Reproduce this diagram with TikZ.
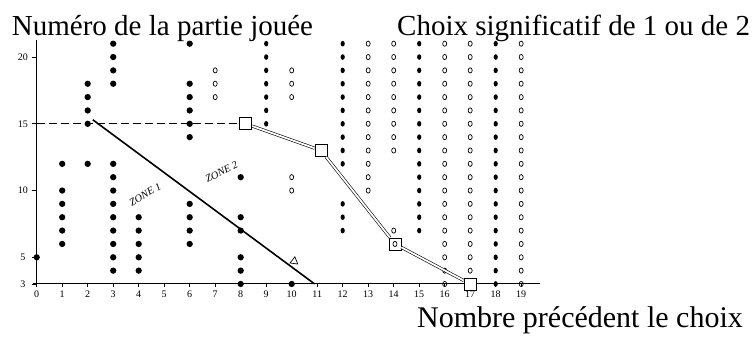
\documentclass[tikz,border=0pt]{standalone}
\usepackage{fontspec}
\setmainfont{Liberation Serif}
\usetikzlibrary{calc,shapes.geometric}

\begin{document}
\begin{tikzpicture}[x=25.5pt,y=13.35pt,
    fulldot/.style={fill=black,circle,inner sep=0pt,minimum size=6.3pt},
    smalldot/.style={fill=black,ellipse,inner sep=0pt,minimum width=4.2pt,minimum height=5.6pt},
    opendot/.style={draw,ellipse,inner sep=0pt,minimum width=4pt,minimum height=5.2pt,line width=0.7pt},
    choicebox/.style={draw,fill=white,minimum size=12pt,inner sep=0pt,line width=0.8pt},
    chain/.style={double,double distance=1.8pt,line width=0.6pt},
    axis/.style={line width=1pt},
    ticklabel/.style={font=\fontsize{10}{10}\selectfont,inner sep=0pt},
    caption/.style={font=\fontsize{29}{30}\selectfont,inner sep=0pt},
    zonelabel/.style={font=\itshape\fontsize{10.5}{10.5}\selectfont,inner sep=0pt}]
  \useasboundingbox (-1.439,-1.045) rectangle (28.169,24.273);

  \node[caption,anchor=base west] (ylab) at (-0.98,21.65) {Numéro de la partie jouée};
  \node[caption,anchor=base west] (key) at (14.13,21.65) {Choix significatif de 1 ou de 2};
  \node[caption,anchor=base east,font=\fontsize{30}{31}\selectfont] (xlab) at (27.70,-0.296) {Nombre précédent le choix};

  \coordinate (xstart) at (-0.15,3);
  \coordinate (xend) at (19.75,3);
  \coordinate (ystart) at (0,2.75);
  \coordinate (yend) at (0,21.3);
  \draw[axis] (xstart) -- (xend);
  \draw[axis] (ystart) -- (yend);
  \foreach \i in {0,...,19} {
    \draw[line width=0.5pt] (\i,3) -- (\i,2.8);
    \node[ticklabel] (xt\i) at (\i,2.21) {\i};
  }
  \foreach \v in {3,5,10,15,20} {
    \draw[line width=0.6pt] (-0.2,\v) -- (0,\v);
    \node[ticklabel] (yt\v) at (-0.54,\v) {\v};
  }

  \foreach \c/\vals in {0/{5},1/{6,7,8,9,10,12},2/{12,15,16,17,18},
      3/{4,5,6,7,8,9,10,11,12,18,19,20,21},4/{4,5,6,7,8},
      6/{6,7,8,9,14,15,16,17,18,21},8/{3,4,5,7,8,11},10/{3}}
    \foreach \v in \vals
      \node[fulldot] (p\c-\v) at (\c,\v) {};
  \foreach \c/\vals in {9/{15,...,21},12/{7,8,9,12,13,14,15,16,17,18,19,20,21},
      15/{7,...,21},18/{3,...,21}}
    \foreach \v in \vals
      \node[smalldot] (p\c-\v) at (\c,\v) {};
  \foreach \c/\vals in {7/{17,18,19},10/{10,11,17,18,19},13/{10,...,21},
      14/{7,13,14,15,16,17,18,19,20,21},16/{3,...,21},17/{4,...,21},19/{3,...,21}}
    \foreach \v in \vals
      \node[opendot] (p\c-\v) at (\c,\v) {};

  \coordinate (zstart) at (2.2,15.3);
  \coordinate (zend) at (10.9,3);
  \draw[line width=1.6pt] (zstart) -- (zend);
  \node[zonelabel,rotate=30] (zone1) at (4.25,9.7) {ZONE 1};
  \node[zonelabel,rotate=27] (zone2) at (7.25,11.4) {ZONE 2};
  \node[draw,regular polygon,regular polygon sides=3,inner sep=0pt,minimum size=9pt,
    line width=0.7pt,rotate=-8] (tri) at (10.1,4.7) {};

  \node[choicebox] (sq1) at (8.2,15) {};
  \node[choicebox] (sq2) at (11.15,13) {};
  \node[choicebox] (sq3) at (14.05,6) {};
  \node[choicebox] (sq4) at (17,3) {};
  \coordinate (d15) at (0,15);
  \draw[line width=0.8pt,dash pattern=on 8pt off 4pt] (d15) -- (sq1);
  \draw[chain] (sq1) -- (sq2) -- (sq3) -- (sq4);
  \node[opendot] (p14-6) at (sq3) {};
\end{tikzpicture}
\end{document}
